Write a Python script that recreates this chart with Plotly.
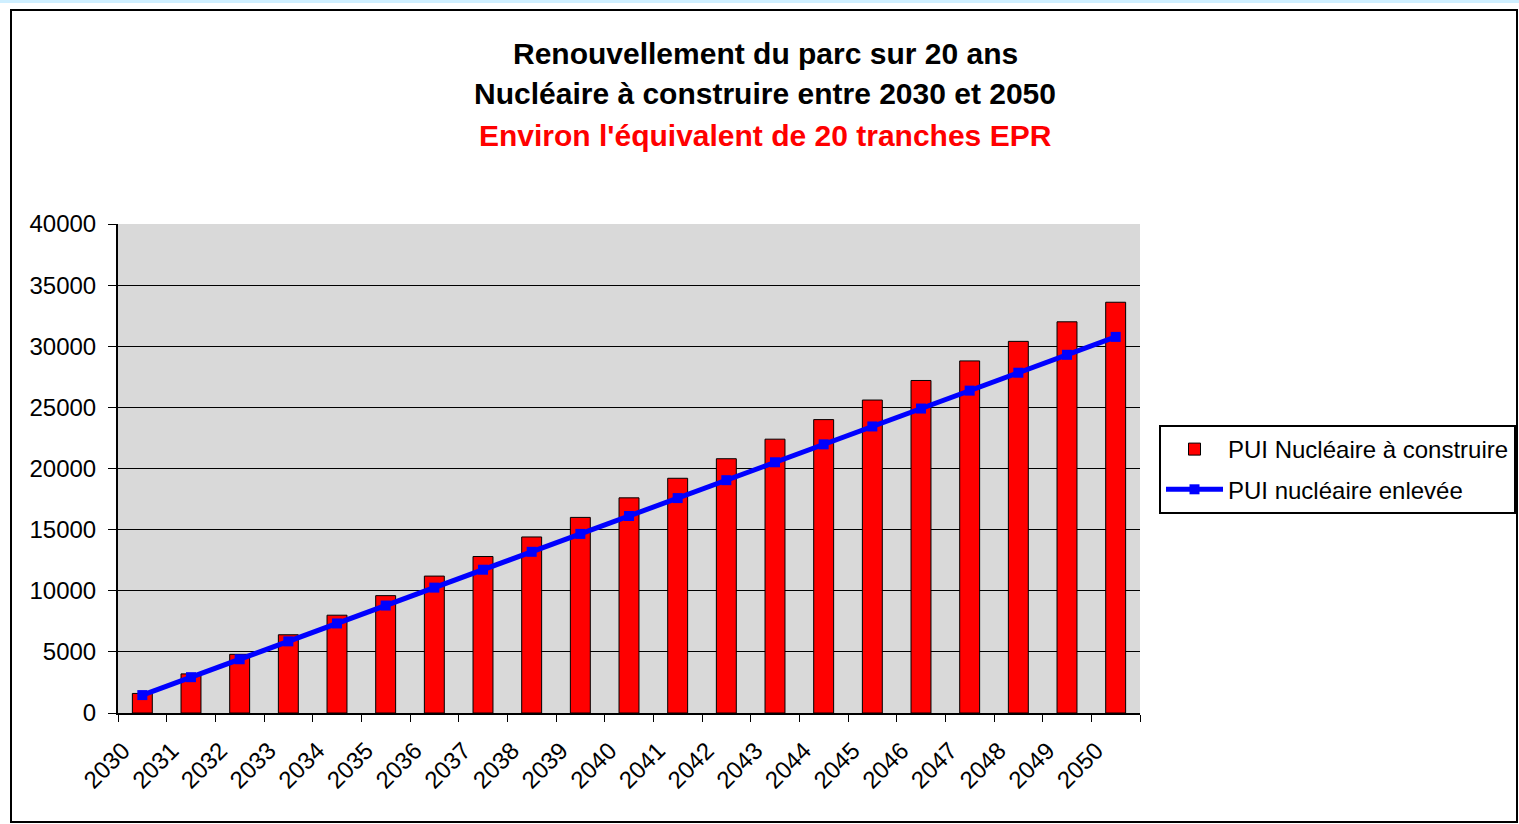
import plotly.graph_objects as go

years = [2030, 2031, 2032, 2033, 2034, 2035, 2036, 2037, 2038, 2039, 2040,
         2041, 2042, 2043, 2044, 2045, 2046, 2047, 2048, 2049, 2050]
a_construire = [1600, 3200, 4800, 6400, 8000, 9600, 11200, 12800, 14400, 16000, 17600,
                19200, 20800, 22400, 24000, 25600, 27200, 28800, 30400, 32000, 33600]
enlevee = [1465, 2930, 4395, 5860, 7325, 8790, 10255, 11720, 13185, 14650, 16115,
           17580, 19045, 20510, 21975, 23440, 24905, 26370, 27835, 29300, 30765]
y_ticks = [0, 5000, 10000, 15000, 20000, 25000, 30000, 35000, 40000]
y_ticktext = ["0", "5000", "10000", "15000", "20000", "25000", "30000", "35000", "40000"]
title_lines = ["Renouvellement du parc sur 20 ans",
               "Nucléaire à construire entre 2030 et 2050",
               "Environ l'équivalent de 20 tranches EPR"]
title_colors = ["#000000", "#000000", "#FF0000"]
series_names = ["PUI Nucléaire à construire", "PUI nucléaire enlevée"]

FONT = "Liberation Sans, Arial, sans-serif"

W, H = 1519, 824
L, R, T, B = 118, 1140, 224, 713
pw, ph = R - L, B - T

def px(x):
    return (x - L) / pw

def py(y):
    return (B - y) / ph

fig = go.Figure()
fig.add_trace(go.Bar(
    x=years, y=a_construire, name=series_names[0], legendgroup="a",
    marker=dict(color="#FF0000", line=dict(color="#000000", width=1)),
    width=0.41,
))
fig.add_trace(go.Scatter(
    x=years, y=enlevee, name=series_names[1], mode="lines+markers", legendgroup="b",
    line=dict(color="#0000FF", width=5),
    marker=dict(symbol="square", size=10, color="#0000FF"),
))

tickpos = [y - 0.5 for y in years] + [years[-1] + 0.5]
ticktxt = [str(y) for y in years] + [""]

fig.update_layout(
    width=W, height=H, autosize=False,
    margin=dict(l=L, r=W - R, t=T, b=H - B, pad=0, autoexpand=False),
    paper_bgcolor="#FFFFFF",
    plot_bgcolor="#D9D9D9",
    font=dict(family=FONT, color="#000000"),
    showlegend=True,
    legend=dict(
        x=px(1159), y=py(425), xanchor="left", yanchor="top",
        bgcolor="#FFFFFF", bordercolor="#000000", borderwidth=2,
        font=dict(family=FONT, size=24, color="#000000"),
        traceorder="grouped", tracegroupgap=6, itemwidth=57,
    ),
    xaxis=dict(
        range=[years[0] - 0.5, years[-1] + 0.5],
        tickmode="array", tickvals=tickpos, ticktext=ticktxt,
        tickangle=-45, ticks="outside", ticklen=7, tickwidth=1, tickcolor="#000000",
        ticklabelshift=5, ticklabelstandoff=5,
        tickfont=dict(family=FONT, size=24, color="#000000"),
        showline=True, linecolor="#000000", linewidth=2,
        showgrid=False, zeroline=False,
    ),
    yaxis=dict(
        range=[0, 40000],
        tickmode="array", tickvals=y_ticks, ticktext=y_ticktext,
        ticks="outside", ticklen=8, tickwidth=1, tickcolor="#000000",
        ticklabelstandoff=7,
        tickfont=dict(family=FONT, size=24, color="#000000"),
        showline=True, linecolor="#000000", linewidth=2,
        showgrid=True, gridcolor="#000000", gridwidth=1,
        zeroline=False,
    ),
)

# light strip above the chart frame
fig.add_shape(type="rect", xref="paper", yref="paper",
              x0=px(0), x1=px(1519), y0=py(3), y1=py(0),
              line=dict(width=0), fillcolor="#CFEFFF", layer="below")
# outer chart frame
fig.add_shape(type="rect", xref="paper", yref="paper",
              x0=px(11), x1=px(1517), y0=py(822), y1=py(10),
              line=dict(color="#000000", width=2), fillcolor="rgba(0,0,0,0)", layer="below")

for i, (txt, col) in enumerate(zip(title_lines, title_colors)):
    fig.add_annotation(
        text="<b>%s</b>" % txt, xref="paper", yref="paper",
        x=px(765), y=py(53 + 41 * i), xanchor="center", yanchor="middle",
        showarrow=False, font=dict(family=FONT, size=30, color=col),
    )

fig.write_html(
    "out.html",
    config={"responsive": False, "displayModeBar": False},
    post_script="document.body.style.margin='0';document.body.style.overflow='hidden';",
)
